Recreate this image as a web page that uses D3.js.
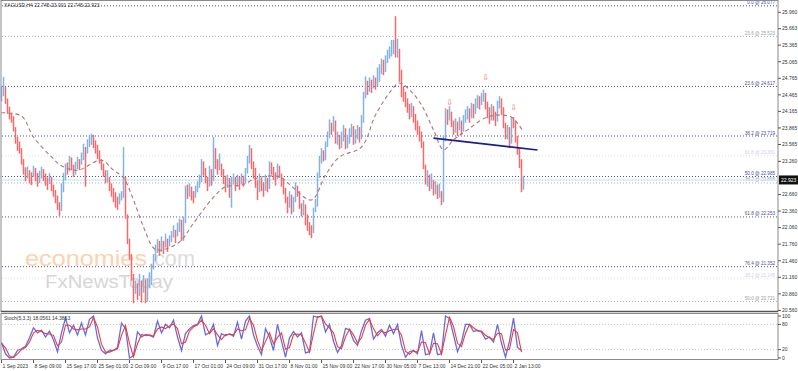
<!DOCTYPE html>
<html>
<head>
<meta charset="utf-8">
<script src="https://cdn.jsdelivr.net/npm/d3@7"></script>
<style>
body { margin: 0; background: #fff; }
svg { display: block; font-family: "Liberation Sans", Arial, sans-serif; }
</style>
</head>
<body>
<div id="chart"></div>
<script>
// XAGUSD H4
var header = "XAGUSD,H4  22.745 23.001 22.745 22.923";
var lastClose = 22.923;
var firstOpen = 24.45;

var closes = [
  24.52, 24.59, 24.37, 24.23, 24.10, 24.05, 23.86, 23.65, 23.56, 23.47,
  23.28, 23.10, 23.01, 23.07, 22.96, 22.92, 23.10, 23.01, 22.89, 22.96,
  23.07, 22.99, 22.92, 22.83, 22.96, 22.80, 22.70, 22.60, 22.47, 22.34,
  22.74, 22.96, 23.14, 23.10, 23.28, 23.19, 23.07, 23.14, 23.25, 23.19,
  23.32, 23.47, 23.28, 23.55, 23.64, 23.68, 23.61, 23.50, 23.43, 23.32,
  23.19, 23.07, 22.96, 23.01, 22.83, 22.74, 22.65, 22.56, 22.47, 22.60,
  22.63, 22.96, 22.29, 21.83, 21.56, 21.20, 20.93, 21.02, 20.84, 21.11,
  20.93, 21.07, 20.78, 21.02, 21.11, 21.29, 21.44, 21.65, 21.74, 21.65,
  21.80, 21.69, 21.87, 21.74, 21.83, 21.92, 22.02, 21.87, 22.05, 22.11,
  21.87, 22.16, 22.74, 22.70, 22.78, 22.65, 22.60, 22.74, 22.83, 22.92,
  23.19, 23.10, 22.96, 22.83, 23.10, 22.92, 23.47, 23.25, 23.14, 23.32,
  23.10, 22.96, 22.83, 22.92, 22.78, 22.87, 22.96, 22.83, 22.92, 22.85,
  22.96, 22.89, 23.07, 23.28, 23.47, 23.19, 23.07, 22.89, 22.74, 22.96,
  22.83, 22.74, 22.92, 22.78, 23.19, 23.10, 23.01, 22.96, 23.14, 23.07,
  22.92, 22.74, 22.60, 22.47, 22.65, 22.38, 22.56, 22.78, 22.70, 22.47,
  22.34, 22.47, 22.20, 22.11, 22.02, 21.98, 22.38, 22.47, 23.01, 23.28,
  23.43, 23.32, 23.56, 23.74, 23.92, 23.83, 24.01, 23.65, 23.68, 23.56,
  23.68, 23.83, 23.56, 23.65, 23.79, 23.86, 23.65, 23.74, 23.83, 23.68,
  24.01, 24.46, 24.64, 24.55, 24.70, 24.59, 24.73, 24.66, 24.77, 24.88,
  25.00, 24.91, 25.10, 25.19, 25.27, 25.31, 25.37, 25.24, 25.27, 24.82,
  24.55, 24.46, 24.37, 24.28, 24.15, 24.23, 24.10, 23.92, 23.86, 23.74,
  23.65, 23.19, 22.92, 22.96, 22.83, 22.89, 22.74, 22.78, 22.69, 22.74,
  22.58, 23.65, 24.10, 24.05, 24.15, 24.01, 23.86, 23.92, 23.83, 23.97,
  23.86, 24.01, 24.10, 24.15, 24.05, 24.23, 24.15, 24.28, 24.37, 24.33,
  24.41, 24.46, 24.28, 24.19, 24.05, 24.23, 24.10, 24.01, 24.28, 24.37,
  24.19, 23.92, 23.74, 23.83, 23.65, 24.01, 23.97, 23.68, 23.47, 23.28, 22.745, 22.923
];
var highs = [
  24.62, 24.79, 24.62, 24.40, 24.25, 24.14, 24.08, 23.88, 23.70, 23.62,
  23.50, 23.30, 23.15, 23.17, 23.10, 23.06, 23.18, 23.14, 23.05, 23.09,
  23.16, 23.12, 23.04, 22.97, 23.05, 22.98, 22.84, 22.74, 22.64, 22.52,
  22.86, 23.05, 23.22, 23.24, 23.36, 23.33, 23.20, 23.25, 23.34, 23.30,
  23.42, 23.58, 23.52, 23.66, 23.74, 23.76, 23.74, 23.64, 23.56, 23.46,
  23.30, 23.22, 23.10, 23.10, 22.98, 22.86, 22.78, 22.70, 22.62, 22.68,
  22.72, 23.52, 22.98, 22.30, 21.86, 21.58, 21.22, 21.10, 21.05, 21.22,
  21.10, 21.20, 21.12, 21.14, 21.25, 21.40, 21.58, 21.75, 21.85, 21.82,
  21.90, 21.82, 21.95, 21.86, 21.92, 22.00, 22.10, 22.02, 22.15, 22.22,
  22.20, 22.26, 22.82, 22.84, 22.86, 22.80, 22.72, 22.82, 22.90, 23.02,
  23.30, 23.26, 23.14, 22.98, 23.18, 23.12, 23.70, 23.50, 23.30, 23.40,
  23.22, 23.12, 23.00, 23.02, 22.96, 22.98, 23.04, 22.98, 23.02, 22.98,
  23.04, 23.00, 23.14, 23.36, 23.56, 23.50, 23.26, 23.14, 22.92, 23.04,
  22.96, 22.88, 23.02, 22.96, 23.26, 23.24, 23.16, 23.06, 23.22, 23.18,
  23.04, 22.94, 22.78, 22.62, 22.72, 22.66, 22.62, 22.88, 22.82, 22.72,
  22.50, 22.56, 22.48, 22.30, 22.16, 22.10, 22.42, 22.58, 23.06, 23.36,
  23.50, 23.46, 23.62, 23.80, 24.02, 23.96, 24.08, 24.00, 23.80, 23.74,
  23.80, 23.92, 23.86, 23.74, 23.86, 23.94, 23.90, 23.84, 23.92, 23.88,
  24.10, 24.52, 24.80, 24.72, 24.78, 24.74, 24.82, 24.78, 24.96, 25.02,
  25.12, 25.10, 25.18, 25.28, 25.34, 25.46, 25.46, 25.89, 25.48, 25.30,
  24.92, 24.62, 24.52, 24.40, 24.30, 24.32, 24.26, 24.12, 24.00, 23.90,
  23.80, 23.62, 23.20, 23.10, 23.02, 23.04, 22.92, 22.90, 22.84, 22.86,
  22.72, 23.72, 24.22, 24.20, 24.26, 24.16, 24.00, 24.04, 23.98, 24.06,
  24.00, 24.10, 24.20, 24.26, 24.22, 24.32, 24.30, 24.40, 24.46, 24.44,
  24.50, 24.56, 24.50, 24.34, 24.24, 24.30, 24.26, 24.16, 24.36, 24.44,
  24.40, 24.24, 23.96, 23.92, 23.88, 24.06, 24.06, 24.00, 23.72, 23.50, 23.30, 23.001
];
var lows = [
  24.35, 24.44, 24.30, 24.12, 24.02, 23.96, 23.80, 23.58, 23.45, 23.40,
  23.20, 23.02, 22.90, 22.95, 22.86, 22.83, 22.98, 22.90, 22.80, 22.87,
  22.95, 22.90, 22.82, 22.74, 22.85, 22.72, 22.62, 22.50, 22.38, 22.27,
  22.36, 22.70, 22.92, 23.02, 23.08, 23.10, 22.98, 23.02, 23.12, 23.10,
  23.20, 23.28, 22.80, 23.40, 23.52, 23.56, 23.50, 23.40, 23.30, 23.22,
  23.10, 22.98, 22.86, 22.88, 22.72, 22.62, 22.52, 22.42, 22.38, 22.48,
  22.55, 22.60, 22.22, 21.76, 21.48, 21.10, 20.69, 20.86, 20.75, 20.82,
  20.70, 20.88, 20.69, 20.72, 20.96, 21.02, 21.30, 21.45, 21.60, 21.55,
  21.62, 21.58, 21.70, 21.62, 21.72, 21.80, 21.88, 21.78, 21.90, 21.98,
  21.82, 21.82, 22.14, 22.58, 22.62, 22.55, 22.50, 22.60, 22.70, 22.78,
  22.88, 23.00, 22.86, 22.72, 22.80, 22.82, 22.90, 23.12, 23.02, 23.10,
  23.00, 22.85, 22.70, 22.78, 22.60, 22.42, 22.84, 22.72, 22.80, 22.74,
  22.85, 22.80, 22.86, 23.04, 23.22, 23.12, 22.95, 22.78, 22.56, 22.70,
  22.72, 22.62, 22.72, 22.70, 22.76, 23.02, 22.92, 22.82, 22.94, 22.96,
  22.80, 22.66, 22.50, 22.32, 22.42, 22.30, 22.34, 22.52, 22.62, 22.40,
  22.26, 22.28, 22.10, 22.00, 21.92, 21.87, 21.96, 22.34, 22.44, 22.96,
  23.22, 23.26, 23.28, 23.52, 23.68, 23.74, 23.80, 23.58, 23.56, 23.48,
  23.50, 23.62, 23.48, 23.50, 23.58, 23.70, 23.56, 23.58, 23.66, 23.60,
  23.66, 23.96, 24.40, 24.46, 24.52, 24.50, 24.58, 24.56, 24.62, 24.70,
  24.84, 24.82, 24.88, 25.04, 25.12, 25.16, 25.20, 25.14, 25.14, 24.70,
  24.42, 24.34, 24.24, 24.14, 24.02, 24.06, 23.96, 23.82, 23.74, 23.62,
  23.50, 23.12, 22.84, 22.80, 22.72, 22.76, 22.64, 22.66, 22.58, 22.60,
  22.47, 22.52, 23.62, 23.92, 24.00, 23.88, 23.74, 23.78, 23.72, 23.82,
  23.74, 23.80, 23.96, 24.02, 23.96, 24.04, 24.04, 24.12, 24.22, 24.20,
  24.28, 24.34, 24.20, 24.04, 23.94, 24.00, 24.00, 23.90, 23.98, 24.22,
  24.10, 23.86, 23.66, 23.66, 23.50, 23.58, 23.86, 23.60, 23.38, 23.14, 22.70, 22.745
];

// dashed moving average, read at some bars
var maBars = [0, 10, 16, 25, 30, 38, 50, 56, 61, 66, 71, 76, 79, 89, 96, 106, 112, 120, 128, 139,
  145, 155, 162, 169, 180, 187, 195, 199, 205, 210, 216, 221, 226, 233, 242, 249, 255, 258, 261];
var maValues = [24.14, 24.08, 23.70, 23.34, 23.18, 23.10, 23.28, 23.10, 22.96, 22.56, 22.07, 21.69, 21.65, 21.80, 22.14, 22.61, 22.80, 22.83, 22.96, 22.98,
  22.81, 22.56, 23.01, 23.34, 23.52, 24.10, 24.55, 24.68, 24.52, 24.28, 23.83, 23.47, 23.65, 23.83, 24.05, 24.10, 24.06, 23.95, 23.79];

// Stochastic (5,3,3), one reading every 2 bars
var stochStep = 2;
var stochK = [
  37, 10, 0, 2, 18, 22, 28, 48, 72, 60, 66, 50, 64, 43, 15, 60, 95, 60, 78, 55,
  83, 55, 92, 100, 48, 18, 10, 18, 18, 25, 83, 70, 0, 5, 62, 50, 56, 54, 50, 88,
  60, 80, 72, 90, 50, 18, 58, 70, 77, 80, 100, 55, 60, 80, 30, 58, 53, 58, 52, 85,
  45, 88, 100, 55, 28, 8, 70, 50, 18, 80, 40, 2, 48, 63, 50, 60, 12, 15, 100, 97,
  100, 62, 80, 40, 13, 30, 70, 68, 42, 30, 65, 90, 94, 45, 60, 68, 52, 78, 58, 80,
  30, 2, 15, 18, 10, 65, 8, 10, 60, 8, 10, 100, 94, 55, 15, 38, 80, 80, 63, 66,
  62, 45, 50, 38, 80, 35, 2, 40, 95, 25, 18
];
var stochD = [
  35, 24, 5, 1, 10, 20, 25, 38, 60, 66, 63, 58, 57, 54, 29, 38, 78, 78, 69, 67,
  69, 69, 74, 96, 74, 33, 14, 14, 18, 22, 54, 77, 35, 3, 34, 56, 53, 55, 52, 69,
  74, 70, 76, 81, 70, 34, 38, 64, 74, 79, 90, 78, 58, 70, 55, 44, 56, 56, 55, 69,
  65, 67, 94, 78, 42, 18, 39, 60, 34, 49, 60, 21, 25, 56, 57, 55, 36, 14, 58, 98,
  99, 81, 71, 60, 27, 22, 50, 69, 55, 36, 48, 78, 92, 70, 53, 64, 60, 65, 68, 69,
  55, 16, 9, 17, 14, 38, 37, 9, 35, 34, 9, 55, 97, 75, 35, 27, 59, 80, 72, 65,
  64, 54, 48, 44, 59, 58, 19, 21, 68, 60, 14
];
var stochTitle = "Stoch(5,3,3) 18.0561 14.3863";
var stochLevels = [80, 20];
var stochTicks = [100, 80, 20, 0];

// 22.960 sits under the current price box, so it is not shown
var priceTicks = [25.960, 25.663, 25.365, 25.065, 24.765, 24.465, 24.165, 23.865, 23.565, 23.260,
  22.660, 22.360, 22.060, 21.760, 21.460, 21.160, 20.860, 20.560];

var timeLabels = ["1 Sep 2023", "8 Sep 09:00", "15 Sep 17:00", "25 Sep 01:00", "2 Oct 09:00", "9 Oct 17:00",
  "17 Oct 01:00", "24 Oct 09:00", "31 Oct 17:00", "8 Nov 01:00", "15 Nov 09:00", "22 Nov 17:00",
  "30 Nov 05:00", "7 Dec 13:00", "14 Dec 21:00", "22 Dec 05:00", "2 Jan 13:00"];
var barsPerLabel = 16;

// fibonacci retracements
var fibMainLevels = ["0.0", "23.6", "38.2", "50.0", "61.8", "76.4"];
var fibMainPrices = [26.077, 24.617, 23.719, 22.985, 22.253, 21.352];
var fibGrayLevels = ["23.6", "38.2", "50.0"];
var fibGrayPrices = [25.523, 22.868, 20.721];
var fibFaintLevels = ["61.8", "38.2"];
var fibFaintPrices = [23.360, 21.145];

// neckline and signal arrows
var necklineBars = [216, 268];
var necklinePrices = [23.68, 23.465];
var arrowBars = [224, 242, 256];
var arrowPrices = [24.34, 24.78, 24.24];

var width = 798, height = 371;
var upColor = "#86b2df", downColor = "#f26b6b";

var svg = d3.select("#chart").append("svg")
  .attr("width", width)
  .attr("height", height);

var x = d3.scaleLinear().domain([0, closes.length - 1]).range([1.5, 523.5]);
var y = d3.scaleLinear().domain([20.56, 25.96]).range([310.4, 12.3]);
var ys = d3.scaleLinear().domain([0, 100]).range([358, 316]);

// watermark
var wm = svg.append("g");
wm.append("text").attr("x", 25).attr("y", 266)
  .attr("font-size", 22)
  .attr("textLength", 122).attr("lengthAdjust", "spacingAndGlyphs")
  .attr("fill", "#fcd3b0").text("economies");
wm.append("text").attr("x", 148).attr("y", 266)
  .attr("font-size", 22)
  .attr("textLength", 47).attr("lengthAdjust", "spacingAndGlyphs")
  .attr("fill", "#dcdcdc").text(".com");
wm.append("text").attr("x", 45).attr("y", 288)
  .attr("font-size", 18)
  .attr("textLength", 128).attr("lengthAdjust", "spacingAndGlyphs")
  .attr("fill", "#d6d6d6").text("FxNewsToday");

// fib lines
function fibSet(levels, prices, lineColor, textColor) {
  var g = svg.append("g");
  levels.forEach(function(lv, i) {
    g.append("line")
      .attr("x1", 2).attr("x2", 777)
      .attr("y1", y(prices[i])).attr("y2", y(prices[i]))
      .attr("stroke", lineColor).attr("stroke-width", 1)
      .attr("stroke-dasharray", "1,2");
    g.append("text")
      .attr("x", 775).attr("y", y(prices[i]) - 1.5)
      .attr("text-anchor", "end")
      .attr("font-size", 4.6)
      .attr("fill", textColor)
      .text(lv + " @ " + prices[i].toFixed(3));
  });
}
fibSet(fibFaintLevels, fibFaintPrices, "#dcdcf2", "#d0d0ee");
fibSet(fibGrayLevels, fibGrayPrices, "#b4b4b4", "#a0a0a0");
fibSet(fibMainLevels, fibMainPrices, "#5050a8", "#4a4aa8");

// current price line
svg.append("line")
  .attr("x1", 2).attr("x2", 777)
  .attr("y1", y(lastClose)).attr("y2", y(lastClose))
  .attr("stroke", "#cdeef5").attr("stroke-width", 1.5);

// bars
var bars = closes.map(function(c, i) {
  return { i: i, o: i ? closes[i - 1] : firstOpen, h: highs[i], l: lows[i], c: c };
});
svg.append("g").selectAll("line")
  .data(bars)
  .enter().append("line")
  .attr("x1", function(d) { return x(d.i); })
  .attr("x2", function(d) { return x(d.i); })
  .attr("y1", function(d) { return y(d.h); })
  .attr("y2", function(d) { return y(d.l); })
  .attr("stroke", function(d) { return d.c >= d.o ? upColor : downColor; })
  .attr("stroke-width", 1.5);

// moving average
var maLine = d3.line()
  .x(function(d) { return x(d[0]); })
  .y(function(d) { return y(d[1]); })
  .curve(d3.curveCatmullRom);
svg.append("path")
  .datum(maBars.map(function(b, i) { return [b, maValues[i]]; }))
  .attr("d", maLine)
  .attr("fill", "none")
  .attr("stroke", "#b87272")
  .attr("stroke-width", 1.1)
  .attr("stroke-dasharray", "4,3");

// neckline
svg.append("line")
  .attr("x1", x(necklineBars[0])).attr("y1", y(necklinePrices[0]))
  .attr("x2", x(necklineBars[1])).attr("y2", y(necklinePrices[1]))
  .attr("stroke", "#1c1c8a").attr("stroke-width", 1.6);

// arrows
svg.append("g").selectAll("text")
  .data(arrowBars)
  .enter().append("text")
  .attr("x", function(d) { return x(d); })
  .attr("y", function(d, i) { return y(arrowPrices[i]) + 3; })
  .attr("text-anchor", "middle")
  .attr("font-family", "DejaVu Sans")
  .attr("font-size", 8)
  .attr("fill", "#f07058")
  .text("\u21E9");

// header
svg.append("text").attr("x", 4).attr("y", 7)
  .attr("font-size", 5).attr("fill", "#333").text(header);

// stochastic panel
var sg = svg.append("g");
stochLevels.forEach(function(v) {
  sg.append("line").attr("x1", 2).attr("x2", 777)
    .attr("y1", ys(v)).attr("y2", ys(v))
    .attr("stroke", "#c8c8c8").attr("stroke-dasharray", "1,2");
});
var stochLine = d3.line()
  .x(function(d, j) { return x(j * stochStep); })
  .y(function(d) { return ys(d); });
sg.append("path").datum(stochK).attr("d", stochLine)
  .attr("fill", "none").attr("stroke", "#6a6ad8").attr("stroke-width", 1.3);
sg.append("path").datum(stochD).attr("d", stochLine)
  .attr("fill", "none").attr("stroke", "#ec3c40").attr("stroke-width", 1.1);
sg.append("text").attr("x", 4).attr("y", 320)
  .attr("font-size", 5).attr("fill", "#333").text(stochTitle);

// frames
svg.append("rect").attr("x", 1).attr("y", 0.5).attr("width", 777).attr("height", 311)
  .attr("fill", "none").attr("stroke", "#8a8a8a").attr("stroke-width", 1);
svg.append("line").attr("x1", 1).attr("x2", 778).attr("y1", 311.5).attr("y2", 311.5)
  .attr("stroke", "#555").attr("stroke-width", 1.5);
svg.append("rect").attr("x", 1).attr("y", 313.5).attr("width", 777).attr("height", 46)
  .attr("fill", "none").attr("stroke", "#8a8a8a").attr("stroke-width", 1);

// price axis
var ax = svg.append("g");
priceTicks.forEach(function(p) {
  ax.append("line").attr("x1", 778).attr("x2", 781)
    .attr("y1", y(p)).attr("y2", y(p)).attr("stroke", "#555");
  ax.append("text").attr("x", 782).attr("y", y(p) + 1.8)
    .attr("font-size", 5).attr("fill", "#333").text(p.toFixed(3));
});
stochTicks.forEach(function(v) {
  ax.append("line").attr("x1", 778).attr("x2", 781)
    .attr("y1", ys(v)).attr("y2", ys(v)).attr("stroke", "#555");
  ax.append("text").attr("x", 782).attr("y", ys(v) + 1.8)
    .attr("font-size", 5).attr("fill", "#333").text(v);
});
ax.append("rect").attr("x", 779).attr("y", y(lastClose) - 4.5)
  .attr("width", 19).attr("height", 9).attr("fill", "#111");
ax.append("text").attr("x", 781).attr("y", y(lastClose) + 1.8)
  .attr("font-size", 5).attr("fill", "#fff").text(lastClose.toFixed(3));

// time axis
timeLabels.forEach(function(t, k) {
  var tx = x(k * barsPerLabel);
  ax.append("line").attr("x1", tx).attr("x2", tx)
    .attr("y1", 360).attr("y2", 363).attr("stroke", "#555");
  ax.append("text").attr("x", tx + 1).attr("y", 368)
    .attr("font-size", 5).attr("fill", "#333").text(t);
});
</script>
</body>
</html>
